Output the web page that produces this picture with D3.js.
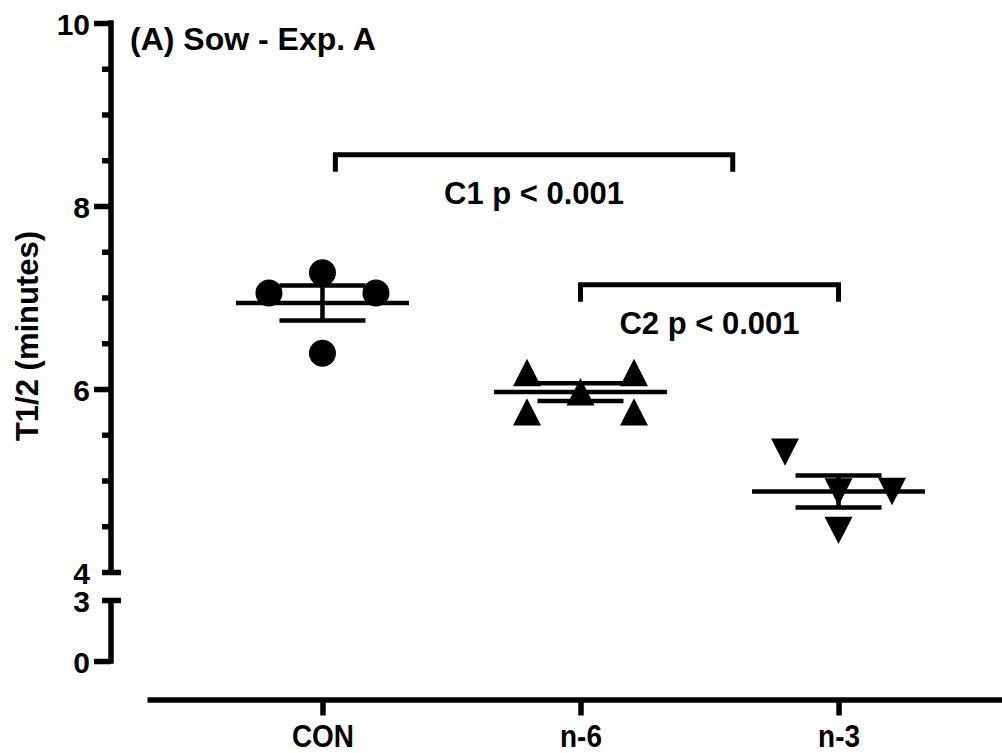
<!DOCTYPE html>
<html>
<head>
<meta charset="utf-8">
<script src="https://cdn.jsdelivr.net/npm/d3@7"></script>
<style>
  html, body { margin: 0; padding: 0; background: #fff; }
  svg { display: block; }
  text { font-family: "Liberation Sans", Arial, sans-serif; font-weight: bold; fill: #000; }
</style>
</head>
<body>
<svg id="chart" width="1002" height="753"></svg>
<script>
// Half-life (T1/2, minutes) per group, with horizontal slot of each point (-1 left, 0 centre, 1 right)
const groups = ["CON", "n-6", "n-3"];
const conValues = [7.05, 7.27, 7.05, 6.39];
const conSlots  = [-1, 0, 1, 0];
const n6Values  = [6.18, 6.18, 5.97, 5.75, 5.75];
const n6Slots   = [-1, 1, 0, -1, 1];
const n3Values  = [5.31, 4.875, 4.88, 4.455];
const n3Slots   = [-1, 0, 1, 0];

// Y axis ticks (broken axis: 0–3 and 4–10)
const upperMajorTicks = [4, 6, 8, 10];
const upperMinorTicks = [4.5, 5, 5.5, 6.5, 7, 7.5, 8.5, 9, 9.5];
const lowerTicks = [0, 3];

// Contrast brackets: [from, to] in category units, height in minutes
const contrastLabels = ["C1 p < 0.001", "C2 p < 0.001"];
const contrastFrom   = [0.05, 1.0];
const contrastTo     = [1.59, 2.0];
const contrastLevel  = [8.56, 7.14];

const title = "(A) Sow - Exp. A";
const yTitle = "T1/2 (minutes)";

const series = [
  { name: groups[0], values: conValues, slots: conSlots, shape: "circle" },
  { name: groups[1], values: n6Values,  slots: n6Slots,  shape: "up" },
  { name: groups[2], values: n3Values,  slots: n3Slots,  shape: "down" }
];

const svg = d3.select("#chart");
const AXIS_W = 5.5;
const LINE_W = 4.5;
const axisX = 111;
const slotGap = 53.5;
const FONT = '"Liberation Sans", Arial, sans-serif';

const x = d3.scalePoint().domain(groups).range([147, 1014]).padding(0.68);
const xIdx = d3.scaleLinear().domain([0, 2]).range([x(groups[0]), x(groups[2])]);
const yHi = d3.scaleLinear().domain([4, 10]).range([572, 23]);
const yLo = d3.scaleLinear().domain([0, 3]).range([661, 600]);

// ---- Upper Y axis segment (4–10)
const gHi = svg.append("g").attr("transform", `translate(${axisX},0)`);
gHi.call(d3.axisLeft(yHi).tickValues(upperMajorTicks).tickSize(17).tickSizeOuter(0)
  .tickPadding(4).tickFormat(d3.format("d")));
const gHiMinor = svg.append("g").attr("transform", `translate(${axisX},0)`);
gHiMinor.call(d3.axisLeft(yHi).tickValues(upperMinorTicks).tickSize(9).tickSizeOuter(0)
  .tickFormat(""));
gHiMinor.select(".domain").remove();

// ---- Lower Y axis segment (0–3)
const gLo = svg.append("g").attr("transform", `translate(${axisX},0)`);
gLo.call(d3.axisLeft(yLo).tickValues(lowerTicks).tickSize(17).tickSizeOuter(0)
  .tickPadding(4).tickFormat(d3.format("d")));

// break caps at 4 and 3 are centred on the axis line
gHi.selectAll(".tick").filter(d => d === 4).select("line").attr("x1", 10).attr("x2", -9);
gLo.selectAll(".tick").filter(d => d === 3).select("line").attr("x1", 10).attr("x2", -9);

[gHi, gHiMinor, gLo].forEach(g => {
  g.selectAll(".domain").attr("stroke", "#000").attr("stroke-width", AXIS_W);
  g.selectAll(".tick line").attr("stroke", "#000").attr("stroke-width", AXIS_W);
  g.selectAll(".tick text").attr("font-size", 30).attr("dy", "0.38em")
    .style("font-family", FONT).style("font-weight", "bold");
});
// axis lines run from the end caps so the corner at 10 and the 0 tick are closed
gLo.select(".domain").attr("d", `M0,${yLo(3)}V${yLo(0) + AXIS_W / 2}`);
gHi.select(".domain").attr("d", `M0,${yHi(10) - AXIS_W / 2}V${yHi(4)}`);

// ---- X axis
const gx = svg.append("g").attr("transform", "translate(0,699.5)");
gx.call(d3.axisBottom(x).tickSize(16).tickSizeOuter(0));
gx.select(".domain").attr("stroke", "#000").attr("stroke-width", AXIS_W);
gx.selectAll(".tick line").attr("stroke", "#000").attr("stroke-width", AXIS_W);
// slightly condensed category labels, centred on their tick
gx.selectAll(".tick text")
  .attr("x", 0).attr("y", 48).attr("dy", 0).attr("font-size", 31)
  .attr("transform", "scale(0.9,1)")
  .style("font-family", FONT).style("font-weight", "bold");

// ---- Titles
svg.append("text").attr("x", 130).attr("y", 50).attr("font-size", 32).text(title);
svg.append("text")
  .attr("transform", "translate(38,336) rotate(-90)")
  .attr("text-anchor", "middle").attr("font-size", 31).text(yTitle);

// ---- Mean ± SEM lines
const plot = svg.append("g");
series.forEach(s => {
  const cx = x(s.name);
  const m = d3.mean(s.values);
  const sem = d3.deviation(s.values) / Math.sqrt(s.values.length);
  const g = plot.append("g").attr("stroke", "#000").attr("stroke-width", LINE_W);
  g.append("line").attr("x1", cx - 86.5).attr("x2", cx + 86.5).attr("y1", yHi(m)).attr("y2", yHi(m));
  g.append("line").attr("x1", cx).attr("x2", cx).attr("y1", yHi(m + sem)).attr("y2", yHi(m - sem));
  [m + sem, m - sem].forEach(v => {
    g.append("line").attr("x1", cx - 43).attr("x2", cx + 43).attr("y1", yHi(v)).attr("y2", yHi(v));
  });
});

// ---- Points
function triangle(dir) {
  const w = 14, h = 13.7;
  return dir === "up"
    ? `M0,${-h}L${w},${h}L${-w},${h}Z`
    : `M0,${h}L${w},${-h}L${-w},${-h}Z`;
}
series.forEach(s => {
  const pts = s.values.map((v, i) => ({ v, slot: s.slots[i] }));
  const g = plot.append("g");
  if (s.shape === "circle") {
    g.selectAll("circle").data(pts).join("circle")
      .attr("cx", d => x(s.name) + d.slot * slotGap)
      .attr("cy", d => yHi(d.v)).attr("r", 13.5).attr("fill", "#000");
  } else {
    g.selectAll("path").data(pts).join("path")
      .attr("transform", d => `translate(${x(s.name) + d.slot * slotGap},${yHi(d.v)})`)
      .attr("d", triangle(s.shape)).attr("fill", "#000");
  }
});

// ---- Contrast brackets
contrastLabels.forEach((label, i) => {
  const x1 = xIdx(contrastFrom[i]), x2 = xIdx(contrastTo[i]);
  const yb = yHi(contrastLevel[i]);
  svg.append("path")
    .attr("d", `M${x1},${yb + 17}V${yb}H${x2}V${yb + 17}`)
    .attr("fill", "none").attr("stroke", "#000").attr("stroke-width", 5)
    .attr("stroke-linejoin", "miter").attr("stroke-linecap", "butt");
  svg.append("text")
    .attr("x", (x1 + x2) / 2).attr("y", yb + 49)
    .attr("text-anchor", "middle").attr("font-size", 31).text(label);
});
</script>
</body>
</html>
